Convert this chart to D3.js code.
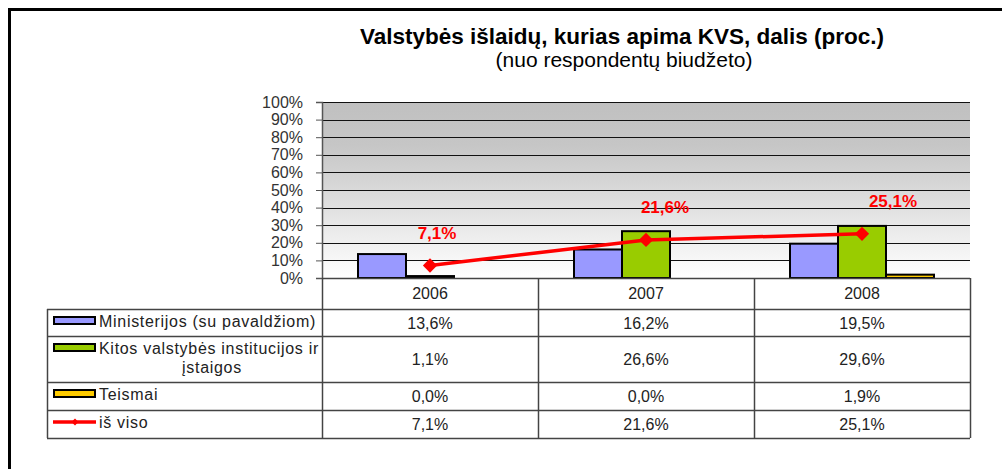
<!DOCTYPE html>
<html>
<head>
<meta charset="utf-8">
<script src="https://d3js.org/d3.v7.min.js"></script>
<style>
  body { margin: 0; background: #fff; }
  text { font-family: "Liberation Sans", Arial, sans-serif; }
</style>
</head>
<body>
<script>

var years = ["2006", "2007", "2008"];
var seriesNames = ["Ministerijos (su pavaldžiom)", "Kitos valstybės institucijos ir įstaigos", "Teismai"];
var ministerijos = [13.6, 16.2, 19.5];
var kitos = [1.1, 26.6, 29.6];
var teismai = [0.0, 0.0, 1.9];
var totalName = "iš viso";
var total = [7.1, 21.6, 25.1];
var yTicks = [0, 10, 20, 30, 40, 50, 60, 70, 80, 90, 100];

var barSeries = [ministerijos, kitos, teismai];
var colors = ["#9999ff", "#99cc00", "#ffcc00"];
var fmt = function(v) { return v.toFixed(1).replace(".", ",") + "%"; };

var W = 1002, H = 469;
var plot = {left: 322, right: 970, top: 102, bottom: 278};

var svg = d3.select("body").append("svg")
            .attr("width", W)
            .attr("height", H);

// outer frame
svg.append("path")
   .attr("d", "M9.5,469 V9.5 H1002")
   .attr("fill", "none")
   .attr("stroke", "#000")
   .attr("stroke-width", 3);

// titles
svg.append("text")
   .attr("x", 622).attr("y", 44)
   .attr("text-anchor", "middle")
   .style("font-size", "22.5px").style("font-weight", "bold")
   .text("Valstybės išlaidų, kurias apima KVS, dalis (proc.)");
svg.append("text")
   .attr("x", 624).attr("y", 67)
   .attr("text-anchor", "middle")
   .style("font-size", "21px")
   .text("(nuo respondentų biudžeto)");

var x = d3.scaleBand()
          .domain(years)
          .range([plot.left, plot.right]);
var x1 = d3.scaleBand()
           .domain(d3.range(barSeries.length))
           .range([0, x.bandwidth()])
           .paddingOuter(0.75)
           .paddingInner(0);
var y = d3.scaleLinear()
          .domain([0, 100])
          .range([plot.bottom, plot.top]);

// background gradient
var grad = svg.append("defs").append("linearGradient")
              .attr("id", "bg").attr("x1", 0).attr("y1", 0).attr("x2", 0).attr("y2", 1);
grad.append("stop").attr("offset", "0%").attr("stop-color", "#c0c0c0");
grad.append("stop").attr("offset", "25%").attr("stop-color", "#c6c6c6");
grad.append("stop").attr("offset", "100%").attr("stop-color", "#ffffff");
svg.append("rect")
   .attr("x", plot.left).attr("y", plot.top)
   .attr("width", plot.right - plot.left).attr("height", plot.bottom - plot.top)
   .attr("fill", "url(#bg)");

// gridlines
svg.append("g").selectAll("line")
   .data(yTicks.slice(1))
   .enter().append("line")
   .attr("x1", plot.left).attr("x2", plot.right)
   .attr("y1", function(d) { return Math.round(y(d)) + 0.5; })
   .attr("y2", function(d) { return Math.round(y(d)) + 0.5; })
   .attr("stroke", "#111").attr("stroke-width", 1);

// y axis
var yAxis = svg.append("g")
               .attr("transform", "translate(" + plot.left + ",0)")
               .call(d3.axisLeft(y).tickValues(yTicks).tickSize(6).tickPadding(13)
                       .tickFormat(function(d) { return d + "%"; }));
yAxis.select(".domain").attr("stroke", "#555").attr("stroke-width", 1.5);
yAxis.selectAll(".tick line").attr("stroke", "#555");
yAxis.selectAll(".tick text")
     .style("font-size", "16px").attr("fill", "#333")
     .style("font-family", "Liberation Sans, Arial, sans-serif");

// bars
barSeries.forEach(function(vals, si) {
  var pts = vals.map(function(v, i) { return {v: v, year: years[i]}; })
                .filter(function(p) { return p.v > 0; });
  svg.append("g").selectAll("rect")
     .data(pts)
     .enter().append("rect")
     .attr("x", function(p) { return x(p.year) + x1(si); })
     .attr("y", function(p) { return y(p.v); })
     .attr("width", x1.bandwidth())
     .attr("height", function(p) { return y(0) - y(p.v); })
     .attr("fill", colors[si])
     .attr("stroke", "#000").attr("stroke-width", 2);
});

// total line
var cx = function(d, i) { return x(years[i]) + x.bandwidth() / 2; };
var line = d3.line()
             .x(function(d, i) { return cx(d, i); })
             .y(function(d) { return y(d); });
svg.append("path")
   .datum(total)
   .attr("d", line)
   .attr("fill", "none")
   .attr("stroke", "#ff0000").attr("stroke-width", 3.5);
svg.append("g").selectAll("path")
   .data(total)
   .enter().append("path")
   .attr("d", d3.symbol(d3.symbolDiamond2, 130))
   .attr("transform", function(d, i) { return "translate(" + cx(d, i) + "," + y(d) + ")"; })
   .attr("fill", "#ff0000");
svg.append("g").selectAll("text")
   .data(total)
   .enter().append("text")
   .attr("x", function(d, i) { return cx(d, i) + 7 + i * 12; })
   .attr("y", function(d) { return y(d) - 27; })
   .attr("text-anchor", "middle")
   .attr("fill", "#ff0000")
   .style("font-size", "17px").style("font-weight", "bold")
   .text(fmt);

// data table
var tableLeft = 47;
var rows = [
  {top: 309, bottom: 336, name: [seriesNames[0]], vals: ministerijos, key: "bar", color: colors[0]},
  {top: 336, bottom: 382, name: ["Kitos valstybės institucijos ir", "įstaigos"], vals: kitos, key: "bar", color: colors[1]},
  {top: 382, bottom: 410, name: [seriesNames[2]], vals: teismai, key: "bar", color: colors[2]},
  {top: 410, bottom: 438, name: [totalName], vals: total, key: "line", color: "#ff0000"}
];
var tbl = svg.append("g");
var tableStroke = "#444";
var fs = "16px";

// header row
tbl.selectAll("text.year")
   .data(years)
   .enter().append("text")
   .attr("class", "year")
   .attr("x", function(d) { return x(d) + x.bandwidth() / 2; })
   .attr("y", 299)
   .attr("text-anchor", "middle")
   .style("font-size", fs).attr("fill", "#222")
   .text(function(d) { return d; });

// horizontal lines
tbl.selectAll("line.h")
   .data([309, 336, 382, 410, 438])
   .enter().append("line")
   .attr("x1", tableLeft).attr("x2", plot.right)
   .attr("y1", function(d) { return d + 0.5; }).attr("y2", function(d) { return d + 0.5; })
   .attr("stroke", tableStroke).attr("stroke-width", 1.5);
tbl.append("line")
   .attr("x1", plot.left).attr("x2", plot.right)
   .attr("y1", plot.bottom + 0.5).attr("y2", plot.bottom + 0.5)
   .attr("stroke", tableStroke).attr("stroke-width", 1.5);
// vertical lines
tbl.append("line")
   .attr("x1", tableLeft + 0.5).attr("x2", tableLeft + 0.5)
   .attr("y1", 309).attr("y2", 438)
   .attr("stroke", tableStroke).attr("stroke-width", 1.5);
tbl.selectAll("line.v")
   .data(years)
   .enter().append("line")
   .attr("x1", function(d) { return x(d) + 0.5; })
   .attr("x2", function(d) { return x(d) + 0.5; })
   .attr("y1", plot.bottom).attr("y2", 438)
   .attr("stroke", tableStroke).attr("stroke-width", 1.5);
tbl.append("line")
   .attr("x1", plot.right + 0.5).attr("x2", plot.right + 0.5)
   .attr("y1", plot.bottom).attr("y2", 438)
   .attr("stroke", tableStroke).attr("stroke-width", 1.5);

rows.forEach(function(r) {
  var mid = (r.top + r.bottom) / 2;
  var keyY = r.top + 8;
  if (r.key === "bar") {
    tbl.append("rect")
       .attr("x", 54).attr("y", keyY)
       .attr("width", 41).attr("height", 7)
       .attr("fill", r.color)
       .attr("stroke", "#000").attr("stroke-width", 2);
  } else {
    tbl.append("line")
       .attr("x1", 53).attr("x2", 96)
       .attr("y1", keyY + 4).attr("y2", keyY + 4)
       .attr("stroke", r.color).attr("stroke-width", 3.5);
    tbl.append("path")
       .attr("d", d3.symbol(d3.symbolDiamond2, 30))
       .attr("transform", "translate(75," + (keyY + 4) + ")")
       .attr("fill", r.color);
  }
  r.name.forEach(function(t, li) {
    tbl.append("text")
       .attr("x", li === 0 ? 99 : 212)
       .attr("y", r.top + 18 + li * 19)
       .attr("text-anchor", li === 0 ? "start" : "middle")
       .style("font-size", fs).attr("fill", "#222")
       .style("letter-spacing", "0.7px")
       .text(t);
  });
  tbl.selectAll(null)
     .data(r.vals)
     .enter().append("text")
     .attr("x", function(d, i) { return x(years[i]) + x.bandwidth() / 2; })
     .attr("y", mid + 6)
     .attr("text-anchor", "middle")
     .style("font-size", fs).attr("fill", "#222")
     .text(fmt);
});

</script>
</body>
</html>
